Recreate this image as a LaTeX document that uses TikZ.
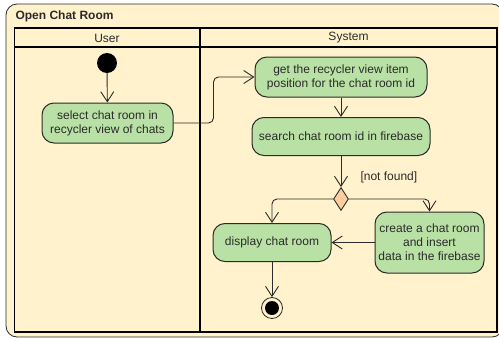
\documentclass[tikz,border=0pt]{standalone}
\usepackage{fontspec}
\setmainfont{Liberation Sans}
\usetikzlibrary{arrows.meta,shapes.geometric}
\definecolor{framefill}{HTML}{FFF2CC}
\definecolor{actfill}{HTML}{B9E0A5}
\definecolor{decfill}{HTML}{FFCE9F}
\definecolor{ink}{HTML}{2B2B2B}
\begin{document}
\begin{tikzpicture}[x=1pt,y=-1pt,
  txt/.style={font=\fontsize{12}{14}\selectfont, text=ink},
  act/.style={txt, draw=ink, line width=1pt, fill=actfill, rounded corners=12pt, align=center, inner sep=0pt},
  flow/.style={draw=ink, line width=0.9pt, -{Straight Barb[length=10pt,width=13pt,line width=0.9pt]}, rounded corners=5pt},
  lane/.style={draw=black, line width=1.8pt}]
\useasboundingbox (0,0) rectangle (499,338);
\clip (0,0) rectangle (499,338);
% outer frame
\draw[fill=framefill, draw=ink, line width=0.8pt, rounded corners=11pt] (6,4) rectangle (503,337);
\node[txt, font=\fontsize{12}{14}\selectfont\bfseries, anchor=west] (title) at (12,16.5) {Open Chat Room};
% swimlanes
\draw[lane] (14.5,28) rectangle (497,332);
\draw[lane] (14.5,47) -- (497,47);
\draw[lane] (200,28) -- (200,332);
\node[txt] (user) at (107,38) {User};
\node[txt] (system) at (348.5,38) {System};
% nodes
\node[circle, fill=black, minimum size=20pt, inner sep=0pt] (start) at (107,63) {};
\node[act, minimum width=131pt, minimum height=40pt] (sel) at (107.5,123) {select chat room in\\recycler view of chats};
\node[act, minimum width=172pt, minimum height=40pt] (get) at (341,77) {get the recycler view item\\position for the chat room id};
\node[act, minimum width=178pt, minimum height=38pt] (search) at (341,136.5) {search chat room id in firebase};
\node[diamond, draw=ink, line width=0.9pt, fill=decfill, minimum width=15pt, minimum height=23pt, inner sep=0pt] (dec) at (341,199) {};
\node[txt, anchor=west] (nf) at (357,177) {[not found]};
\node[act, minimum width=118pt, minimum height=38pt] (disp) at (272,242.5) {display chat room};
\node[act, minimum width=109pt, minimum height=61pt] (cre) at (429.5,242.5) {create a chat room\\and insert\\data in the firebase};
\node[circle, draw=ink, line width=0.8pt, fill=framefill, minimum size=21pt, inner sep=0pt] (end) at (272,308) {};
\node[circle, fill=black, minimum size=14pt, inner sep=0pt] (endin) at (end.center) {};
% connectors
\draw[flow] (start) -- (sel);
\draw[flow] (sel.east) -- ++(40,0) |- (get.west);
\draw[flow] (get) -- (search);
\draw[flow] (search) -- (dec);
\draw[flow] (dec.west) -| (disp.north);
\draw[flow] (dec.east) -| (cre.north);
\draw[flow] (cre) -- (disp);
\draw[flow] (disp) -- (end);
\end{tikzpicture}
\end{document}
